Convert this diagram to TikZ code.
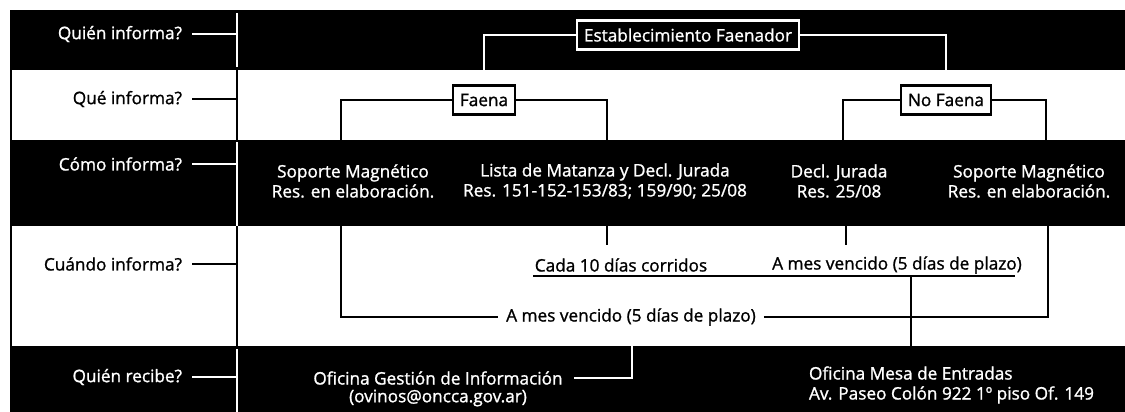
\documentclass[tikz,border=0pt]{standalone}
\usepackage{fontspec}
\setmainfont{Open Sans}[UprightFeatures={FakeBold=1.2}]
\usepackage{tikz}

\begin{document}
\begin{tikzpicture}[x=0.5pt, y=-0.5pt, line width=1pt,
  txt/.style = {font=\fontsize{8.6}{10}\selectfont, inner sep=0pt, align=center},
  wtxt/.style = {txt, text=white},
  lbl/.style = {font=\fontsize{8.6}{10}\selectfont, anchor=east, inner xsep=4.5pt, inner ysep=0pt},
  wbox/.style = {draw=white, line width=1.3pt, fill=black, text=white, font=\fontsize{8.6}{10}\selectfont, minimum height=14.5pt, inner xsep=3.5pt},
  bbox/.style = {draw=black, line width=1.3pt, fill=white, font=\fontsize{8.6}{10}\selectfont, minimum height=14.5pt, inner xsep=3.5pt},
  wl/.style = {draw=white},
  bl/.style = {draw=black}]
  \useasboundingbox (0,0) rectangle (1125,412);
  % bands
  \fill (10,10) rectangle (1125,70);
  \fill (10,140) rectangle (1125,226);
  \fill (10,346) rectangle (1125,412);
  \draw[bl] (11,70) -- (11,140);
  \draw[bl] (11,226) -- (11,346);
  \coordinate (div) at (237,0);
  \draw[wl] (237,13) -- (237,67);
  \draw[bl] (237,70) -- (237,140);
  \draw[wl] (237,142) -- (237,226);
  \draw[bl] (237,226) -- (237,346);
  \draw[wl] (237,349) -- (237,412);
  % row labels
  \node[lbl, text=white] (q1) at (192,34) {Quién informa?};
  \node[lbl] (q2) at (192,99) {Qué informa?};
  \node[lbl, text=white] (q3) at (192,164) {Cómo informa?};
  \node[lbl] (q4) at (192,264) {Cuándo informa?};
  \node[lbl, text=white] (q5) at (192,377) {Quién recibe?};
  \draw[wl] (q1.east) -- (q1.east -| div);
  \draw[bl] (q2.east) -- (q2.east -| div);
  \draw[wl] (q3.east) -- (q3.east -| div);
  \draw[bl] (q4.east) -- (q4.east -| div);
  \draw[wl] (q5.east) -- (q5.east -| div);
  % boxes
  \node[wbox] (est) at (688,35) {Establecimiento Faenador};
  \node[bbox] (faena) at (484,100) {Faena};
  \node[bbox] (nofaena) at (946,100) {No Faena};
  \coordinate (r1) at (0,70);
  \draw[wl] (est.west) -| (faena.north |- r1);
  \draw[wl] (est.east) -| (nofaena.north |- r1);
  \coordinate (p1) at (341,140);
  \coordinate (p2) at (607,140);
  \coordinate (p3) at (843,140);
  \coordinate (p4) at (1046,140);
  \draw[bl] (faena.west) -| (p1);
  \draw[bl] (faena.east) -| (p2);
  \draw[bl] (nofaena.west) -| (p3);
  \draw[bl] (nofaena.east) -| (p4);
  % como informa
  \node[wtxt] (sm1) at (353,181) {Soporte Magnético\\Res. en elaboración.};
  \node[wtxt] (lista) at (605,181) {Lista de Matanza y Decl. Jurada\\Res. 151-152-153/83; 159/90; 25/08};
  \node[wtxt] (decl) at (839,181) {Decl. Jurada\\Res. 25/08};
  \node[wtxt] (sm2) at (1029,181) {Soporte Magnético\\Res. en elaboración.};
  % cuando informa
  \node[txt] (cada) at (621,265) {Cada 10 días corridos};
  \node[txt] (amesA) at (897,265) {A mes vencido (5 días de plazo)};
  \node[txt, inner xsep=3.5pt] (amesB) at (631,317) {A mes vencido (5 días de plazo)};
  \coordinate (p5) at (607,226);
  \coordinate (p6) at (607,245);
  \coordinate (p7) at (846,226);
  \coordinate (p8) at (846,245);
  \draw[bl] (p5) -- (p6);
  \draw[bl] (p7) -- (p8);
  \coordinate (u1) at (533,276);
  \coordinate (u2) at (1015,276);
  \coordinate (u3) at (911,276);
  \coordinate (u4) at (911,346);
  \draw[bl] (u1) -- (u2);
  \draw[bl] (u3) -- (u4);
  \coordinate (p9) at (341,226);
  \coordinate (p10) at (1048,226);
  \draw[bl] (p9) |- (amesB.west);
  \draw[bl] (amesB.east) -| (p10);
  % quien recibe
  \node[wtxt, inner xsep=5pt] (ogi) at (438,378) {Oficina Gestión de Información};
  \node[wtxt] (mail) at (438,398) {(ovinos@oncca.gov.ar)};
  \node[wtxt, anchor=west, align=left] (mesa) at (808,385) {Oficina Mesa de Entradas\\Av. Paseo Colón 922 1º piso Of. 149};
  \coordinate (p11) at (632,346);
  \draw[wl] (p11) |- (ogi.east);
\end{tikzpicture}
\end{document}
